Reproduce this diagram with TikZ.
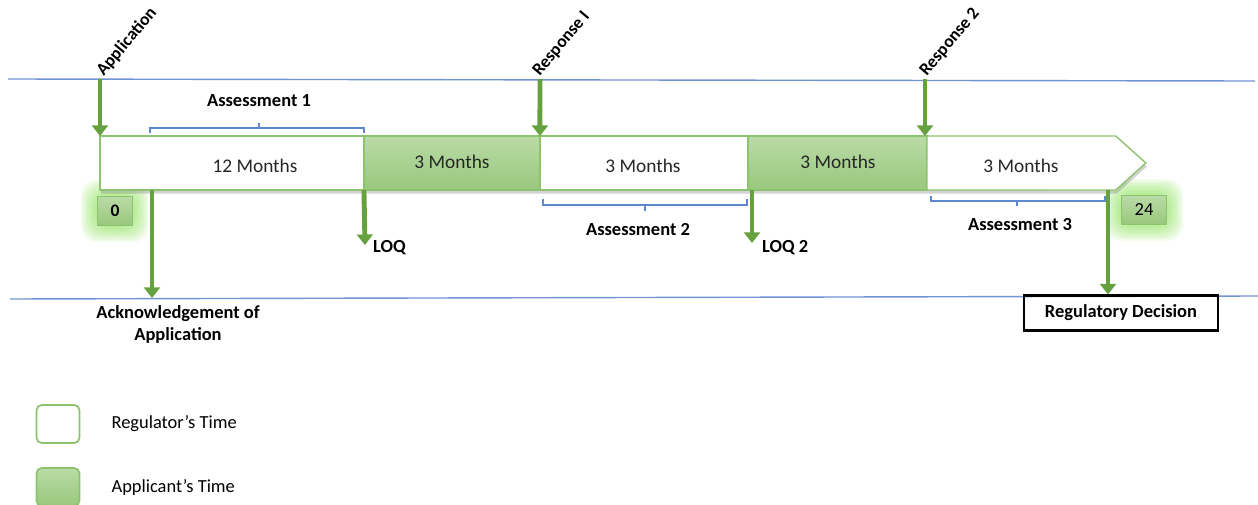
\documentclass[tikz,border=0pt]{standalone}
\usepackage{fontspec}
\setmainfont{Carlito}
\usetikzlibrary{arrows.meta,positioning,calc,shadows,backgrounds}

\definecolor{barline}{RGB}{141,195,110}
\definecolor{appfilltop}{RGB}{186,219,166}
\definecolor{appfillbot}{RGB}{152,200,124}
\definecolor{arrowgreen}{RGB}{101,161,62}
\definecolor{guideblue}{RGB}{114,147,212}
\definecolor{bracecol}{RGB}{95,135,205}
\definecolor{glowgreen}{RGB}{120,220,60}

\begin{document}
\begin{tikzpicture}[
  x=0.02cm, y=-0.02cm,
  font=\fontsize{10.5}{12.5}\selectfont,
  regseg/.style={draw=barline, line width=0.8pt, fill=white, minimum height=1.08cm, inner sep=0pt, outer sep=0pt, anchor=north west},
  appseg/.style={regseg, top color=appfilltop, bottom color=appfillbot},
  months/.style={font=\fontsize{11}{13}\selectfont, text=black!85},
  milestone/.style={font=\bfseries\fontsize{10}{12}\selectfont, rotate=50, anchor=south west, inner sep=0pt},
  garrow/.style={draw=arrowgreen, line width=2.8pt, -{Triangle[length=6pt, width=9pt]}},
  tag/.style={font=\bfseries\fontsize{10.5}{12.5}\selectfont, align=center},
  timebox/.style={draw=barline, top color=appfilltop, bottom color=appfillbot, line width=0.6pt, inner sep=0pt, minimum height=0.58cm},
  brace/.style={draw=bracecol, line width=0.6pt},
  guide/.style={draw=guideblue, line width=0.8pt},
  legendbox/.style={draw=barline, line width=1pt, rounded corners=3pt, minimum width=0.86cm, minimum height=0.76cm}
]
  \useasboundingbox (0,0) rectangle (1258,504);

  % guide lines
  \draw[guide] (8,79) -- (1255,81);
  \draw[guide] (10,299) -- (1258,296);

  % timeline bar
  \path[fill=white, drop shadow={shadow xshift=0.5pt, shadow yshift=-2pt, opacity=.35}]
    (100,136) -- (1116,136) -- (1146,163) -- (1116,190) -- (100,190) -- cycle;
  \node[regseg, minimum width=5.28cm] (s1) at (100,136) {};
  \node[appseg, minimum width=3.52cm] (s2) at (s1.north east) {};
  \node[regseg, minimum width=4.16cm] (s3) at (s2.north east) {};
  \node[appseg, minimum width=3.58cm] (s4) at (s3.north east) {};
  \draw[barline, line width=0.8pt, fill=white] (s4.north east) -- ++(189,0) -- ++(30,27) -- ++(-30,27) -- (s4.south east) -- cycle;

  \node[months] (m1) at (255,166) {12 Months};
  \node[months] (m2) at (452,162) {3 Months};
  \node[months] (m3) at (643,166) {3 Months};
  \node[months] (m4) at (838,162) {3 Months};
  \node[months] (m5) at (1021,166) {3 Months};

  % assessment braces
  \draw[brace] (150,133) -- (150,128) -- (364,128) -- (364,133) (259,128) -- (259,123);
  \node[tag] (a1) at (259,101) {Assessment 1};
  \draw[brace] (543,199) -- (543,205) -- (747,205) -- (747,199) (645,205) -- (645,211);
  \node[tag] (a2) at (638,230) {Assessment 2};
  \draw[brace] (931,196) -- (931,201) -- (1105,201) -- (1105,196) (1017,201) -- (1017,206);
  \node[tag] (a3) at (1020,225) {Assessment 3};

  % incoming milestones
  \coordinate (app) at (100,79);
  \coordinate (resp1) at (540,79);
  \coordinate (resp2) at (925,79);
  \draw[garrow] (app) -- (s1.north west);
  \draw[garrow] (resp1) -- (s3.north west);
  \draw[garrow] (resp2) -- (resp2 |- s4.north east);
  \node[milestone] at ($(app)+(6,0)$) {Application};
  \node[milestone] at ($(resp1)+(2,0)$) {Response I};
  \node[milestone] at ($(resp2)+(4,0)$) {Response 2};

  % outgoing milestones
  \coordinate (ackstart) at (152,190);
  \coordinate (ackend) at (152,298);
  \draw[garrow] (ackstart) -- (ackend);
  \node[tag] (ack) at (178,324) {Acknowledgement of\\Application};

  \coordinate (loq) at (365,245);
  \draw[garrow] (s1.south east) -- (loq);
  \node[tag, anchor=west, inner sep=1pt] (loqtxt) at (371,248) {LOQ};

  \coordinate (loqbstart) at (752,190);
  \coordinate (loqb) at (752,243);
  \draw[garrow] (loqbstart) -- (loqb);
  \node[tag, anchor=west, inner sep=1pt] (loqbtxt) at (760,248) {LOQ 2};

  \node[tag, draw=black, line width=1.2pt, minimum width=3.88cm, minimum height=0.7cm] (decision) at (1121,313) {Regulatory Decision};
  \coordinate (decstart) at (1108,190);
  \draw[garrow] (decstart) -- (decstart |- decision.north);

  % month markers
  \node[timebox, minimum width=0.7cm, font=\bfseries\fontsize{10}{12}\selectfont] (t0) at (115,211) {0};
  \node[timebox, minimum width=0.9cm, font=\fontsize{10.5}{12}\selectfont] (t24) at (1144,210) {24};
  \begin{scope}[on background layer]
    \foreach \b in {t0,t24}
      \foreach \g in {1,...,8}
        \fill[glowgreen, opacity=0.09, rounded corners=9pt]
          ($(\b.south west)+(-2*\g,2*\g)$) rectangle ($(\b.north east)+(2*\g,-2*\g)$);
  \end{scope}

  % legend
  \node[legendbox, fill=white] (legreg) at (58,424) {};
  \node[right=0.5cm of legreg] (legregtxt) {Regulator’s Time};
  \node[legendbox, top color=appfilltop, bottom color=appfillbot] (legapp) at (58,487) {};
  \node[right=0.5cm of legapp] (legapptxt) {Applicant’s Time};
\end{tikzpicture}
\end{document}
